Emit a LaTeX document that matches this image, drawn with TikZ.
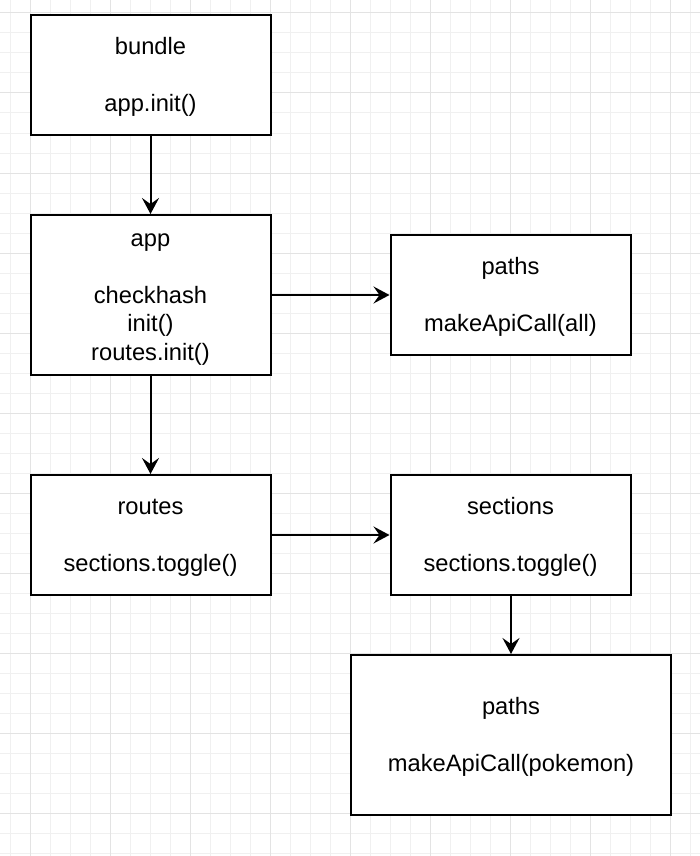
\documentclass[tikz,border=0pt]{standalone}
\usepackage{fontspec}
\setmainfont{Liberation Sans}
\usetikzlibrary{arrows.meta}
\newcommand{\ms}{\rule[-5.9pt]{0pt}{28.4pt}}
\begin{document}
\begin{tikzpicture}[x=1pt,y=-1pt,
  gridminor/.style={draw=black!6,line width=1pt},
  gridmajor/.style={draw=black!11,line width=1pt},
  box/.style={draw=black,line width=2pt,fill=white,minimum width=240pt,minimum height=120pt,align=center,inner sep=0pt,font=\fontsize{23.7pt}{28.4pt}\selectfont},
  arr/.style={-{Stealth[length=16pt,width=17pt,inset=6pt]},line width=2pt}]
\useasboundingbox (0,0) rectangle (700,856);
\fill[white] (0,0) rectangle (700,856);
\foreach \x in {10,30,...,690} \draw[gridminor] (\x,0) -- (\x,856);
\foreach \y in {13,33,...,853} \draw[gridminor] (0,\y) -- (700,\y);
\foreach \x in {30,110,...,670} \draw[gridmajor] (\x,0) -- (\x,856);
\foreach \y in {13,93,...,813} \draw[gridmajor] (0,\y) -- (700,\y);

\node[box] (bundle) at (150.5,75) {\ms bundle\\[28.4pt]app.init()\ms};
\node[box,minimum height=160pt] (app) at (150.5,295) {\ms app\\[28.4pt]checkhash\\init()\\routes.init()\ms};
\node[box] (paths1) at (510.5,295) {\ms paths\\[28.4pt]makeApiCall(all)\ms};
\node[box] (routes) at (150.5,535) {\ms routes\\[28.4pt]sections.toggle()\ms};
\node[box] (sections) at (510.5,535) {\ms sections\\[28.4pt]sections.toggle()\ms};
\node[box,minimum width=320pt,minimum height=160pt] (paths2) at (511,735) {\ms paths\\[28.4pt]makeApiCall(pokemon)\ms};

\draw[arr] (bundle.south) -- (app.north);
\draw[arr] (app.east) -- (paths1.west);
\draw[arr] (app.south) -- (routes.north);
\draw[arr] (routes.east) -- (sections.west);
\draw[arr] (sections.south -| paths2.north) -- (paths2.north);
\end{tikzpicture}
\end{document}
